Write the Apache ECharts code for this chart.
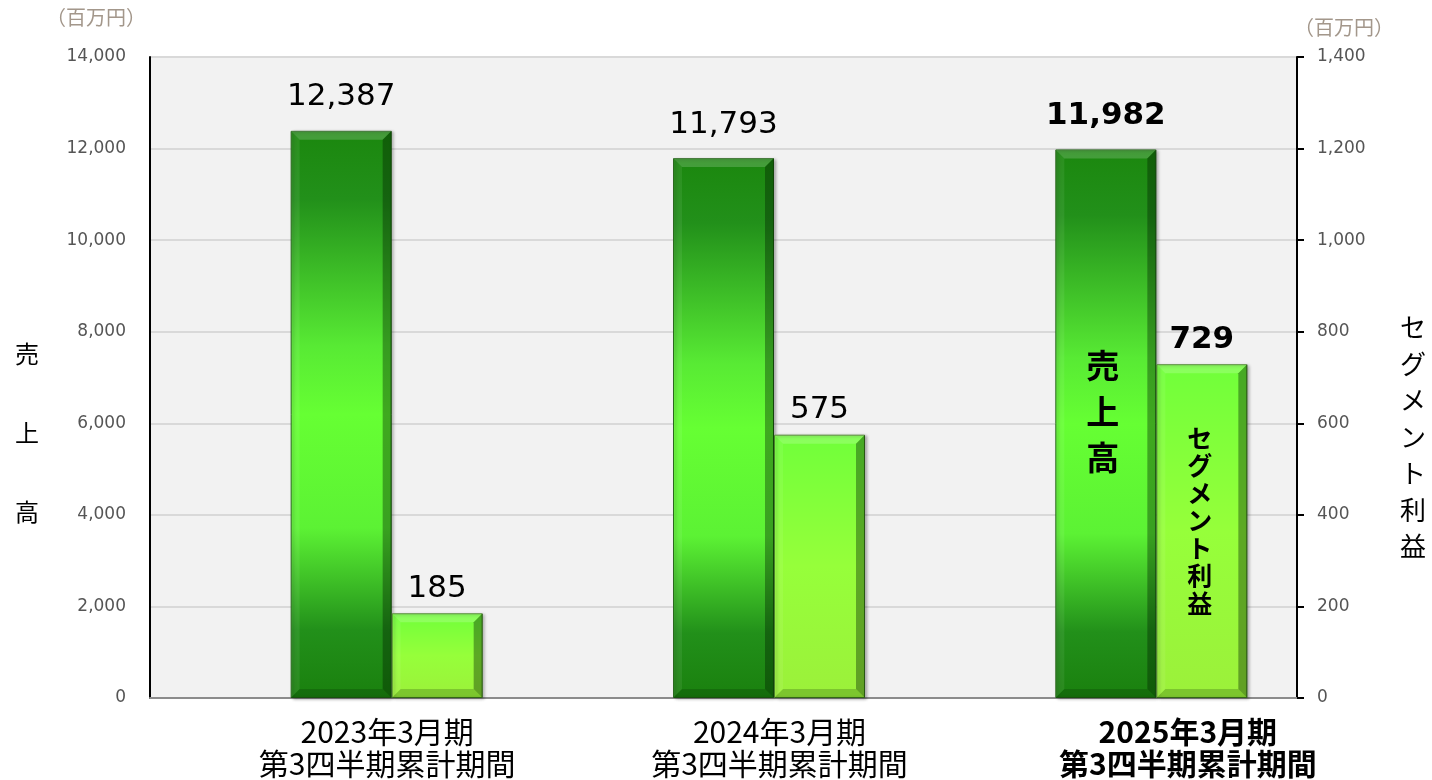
<!DOCTYPE html>
<html><head><meta charset="utf-8">
<script src="https://cdn.jsdelivr.net/npm/echarts@6/dist/echarts.min.js"></script>
<style>html,body{margin:0;padding:0;background:#fff}#c{width:1432px;height:780px}</style>
</head><body><div id="c"></div><script>
const categories = ['2023年3月期\n第3四半期累計期間', '2024年3月期\n第3四半期累計期間', '2025年3月期\n第3四半期累計期間'];
const salesValues = [12387, 11793, 11982];
const profitValues = [185, 575, 729];
const leftMin = 0, leftMax = 14000, leftInterval = 2000;
const rightMin = 0, rightMax = 1400, rightInterval = 200;
const unitText = '（百万円）';
const leftTitle = '売\n上\n高';
const rightTitle = 'セ\nグ\nメ\nン\nト\n利\n益';
const salesInside = '売\n上\n高';
const profitInside = 'セ\nグ\nメ\nン\nト\n利\n益';

const fmt = v => Number(v).toLocaleString('en-US');
const NUMFONT = '"DejaVu Sans", "Noto Sans CJK JP", sans-serif';
const JPFONT = '"Noto Sans CJK JP", "DejaVu Sans", sans-serif';
const labelPads = [92, 112, 164];
const richKeys = ['a', 'b', 'c'];
const SALES_W = 101, PROFIT_W = 91;

const chart = echarts.init(document.getElementById('c'));

const salesGrad = new echarts.graphic.LinearGradient(0, 0, 0, 1, [
  {offset: 0, color: '#1b870e'},
  {offset: 0.12, color: '#22901a'},
  {offset: 0.38, color: '#58ea34'},
  {offset: 0.5, color: '#66ff33'},
  {offset: 0.7, color: '#5cf234'},
  {offset: 0.88, color: '#22901a'},
  {offset: 1, color: '#1a800e'}
]);
const profitGrad = new echarts.graphic.LinearGradient(0, 0, 0, 1, [
  {offset: 0, color: '#70ff3a'},
  {offset: 0.5, color: '#96ff3a'},
  {offset: 1, color: '#9cf03a'}
]);

const salesData = salesValues.map((v, i) => i === 2 ? {value: v, label: {fontWeight: 'bold'}} : v);
const profitData = profitValues.map((v, i) => i === 2 ? {value: v, label: {fontWeight: 'bold'}} : v);

function bevel(x0, x1) {
  return (params, api) => {
    const top = api.coord([api.value(0), api.value(1)]);
    const base = api.coord([api.value(0), 0]);
    const L = top[0] + x0, R = top[0] + x1, T = top[1], B = base[1];
    const d = Math.min(9, (B - T) / 2);
    return {type: 'group', children: [
      {type: 'polygon', shape: {points: [[L, T], [R, T], [R - d, T + d], [L + d, T + d]]}, style: {fill: 'rgba(255,255,255,0.18)'}},
      {type: 'polygon', shape: {points: [[R, T], [R, B], [R - d, B - d], [R - d, T + d]]}, style: {fill: 'rgba(0,30,0,0.38)'}},
      {type: 'polygon', shape: {points: [[L, B], [R, B], [R - d, B - d], [L + d, B - d]]}, style: {fill: 'rgba(0,30,0,0.2)'}},
      {type: 'polygon', shape: {points: [[L, T], [L + d, T + d], [L + d, B - d], [L, B]]}, style: {fill: 'rgba(255,255,255,0.07)'}}
    ]};
  };
}

chart.setOption({
  animation: false,
  backgroundColor: '#ffffff',
  grid: {left: 150, right: 135, top: 57, bottom: 82, show: true, backgroundColor: '#f2f2f2', borderWidth: 0, outerBoundsMode: 'none'},
  xAxis: {
    type: 'category', data: categories,
    axisLine: {show: true, lineStyle: {color: '#8c8c8c', width: 2}},
    axisTick: {show: false},
    axisLabel: {
      margin: 18, interval: 0,
      formatter: (val, idx) => val.split('\n').map(l => '{' + richKeys[idx] + '|' + l + '}').join('\n'),
      rich: {
        a: {fontSize: 30, lineHeight: 32, color: '#000', fontFamily: JPFONT, padding: [0, 0, 0, labelPads[0]]},
        b: {fontSize: 30, lineHeight: 32, color: '#000', fontFamily: JPFONT, padding: [0, 0, 0, labelPads[1]]},
        c: {fontSize: 30, lineHeight: 32, color: '#000', fontWeight: 'bold', fontFamily: JPFONT, padding: [0, 0, 0, labelPads[2]]}
      }
    }
  },
  yAxis: [
    {
      type: 'value', position: 'left', min: leftMin, max: leftMax, interval: leftInterval,
      axisLine: {show: true, lineStyle: {color: '#000', width: 2}},
      axisTick: {show: false},
      axisLabel: {formatter: fmt, color: '#555555', fontSize: 17, fontFamily: NUMFONT, margin: 24},
      splitLine: {show: true, lineStyle: {color: '#d9d9d9', width: 2}}
    },
    {
      type: 'value', position: 'right', min: rightMin, max: rightMax, interval: rightInterval,
      axisLine: {show: true, lineStyle: {color: '#000', width: 2}},
      axisTick: {show: true, inside: false, length: 7, lineStyle: {color: '#000', width: 2}},
      axisLabel: {formatter: fmt, color: '#555555', fontSize: 17, fontFamily: NUMFONT, margin: 20},
      splitLine: {show: false}
    }
  ],
  series: [
    {name: 'spacer', type: 'bar', barWidth: PROFIT_W, barGap: '0%', yAxisIndex: 0, data: [null, null, null], silent: true},
    {
      name: '売上高', type: 'bar', barWidth: SALES_W, barGap: '0%', yAxisIndex: 0, data: salesData,
      itemStyle: {color: salesGrad, borderColor: '#1d5e10', borderWidth: 1, shadowColor: 'rgba(0,0,0,0.3)', shadowBlur: 3, shadowOffsetX: 2, shadowOffsetY: 1},
      label: {show: true, position: 'top', distance: 18, formatter: p => fmt(p.value), fontSize: 31, color: '#000', fontFamily: NUMFONT}
    },
    {
      name: 'セグメント利益', type: 'bar', barWidth: PROFIT_W, barGap: '0%', yAxisIndex: 1, data: profitData,
      itemStyle: {color: profitGrad, borderColor: '#3f7a1c', borderWidth: 1, shadowColor: 'rgba(0,0,0,0.3)', shadowBlur: 3, shadowOffsetX: 2, shadowOffsetY: 1},
      label: {show: true, position: 'top', distance: 9, formatter: p => fmt(p.value), fontSize: 31, color: '#000', fontFamily: NUMFONT}
    },
    {
      name: 'salesBevel', type: 'custom', xAxisIndex: 0, yAxisIndex: 0, silent: true, z: 3,
      renderItem: bevel(-SALES_W / 2, SALES_W / 2),
      data: salesValues.map((v, i) => [i, v])
    },
    {
      name: 'profitBevel', type: 'custom', xAxisIndex: 0, yAxisIndex: 1, silent: true, z: 3,
      renderItem: bevel(SALES_W / 2, SALES_W / 2 + PROFIT_W),
      data: profitValues.map((v, i) => [i, v])
    }
  ]
});

const c3 = chart.convertToPixel({xAxisIndex: 0, yAxisIndex: 0}, [2, 6250]);
const p3 = chart.convertToPixel({xAxisIndex: 0, yAxisIndex: 1}, [2, 387]);
const yMidL = chart.convertToPixel({yAxisIndex: 0}, 5800);
const yMidR = chart.convertToPixel({yAxisIndex: 1}, 570);

chart.setOption({
  graphic: [
    {type: 'text', left: 46, top: 7, style: {text: unitText, fill: '#a3978b', font: '20px ' + JPFONT}},
    {type: 'text', left: 1294, top: 17, style: {text: unitText, fill: '#a3978b', font: '20px ' + JPFONT}},
    {type: 'text', x: 27, y: yMidL, style: {text: leftTitle, fill: '#000', font: '24px ' + JPFONT, lineHeight: 79, textAlign: 'center', textVerticalAlign: 'middle'}},
    {type: 'text', x: 1413, y: yMidR, style: {text: rightTitle, fill: '#000', font: '26px ' + JPFONT, lineHeight: 36.5, textAlign: 'center', textVerticalAlign: 'middle'}},
    {type: 'text', x: c3[0] - 3, y: c3[1], z: 100, style: {text: salesInside, fill: '#000', font: 'bold 33px ' + JPFONT, lineHeight: 46, textAlign: 'center', textVerticalAlign: 'middle'}},
    {type: 'text', x: c3[0] + 94, y: p3[1], z: 100, style: {text: profitInside, fill: '#000', font: 'bold 25px ' + JPFONT, lineHeight: 27.5, textAlign: 'center', textVerticalAlign: 'middle'}}
  ]
});
</script></body></html>
